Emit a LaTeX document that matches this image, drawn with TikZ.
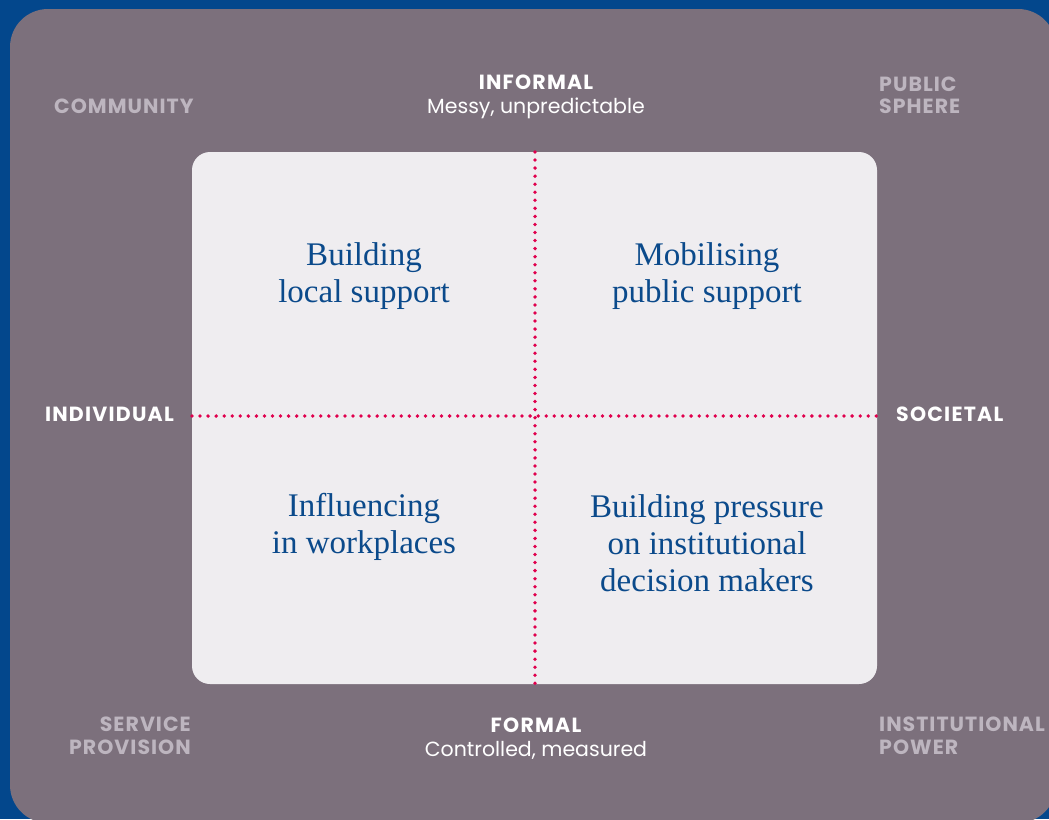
\documentclass[tikz,border=0pt]{standalone}
\usepackage{fontspec}
\setmainfont{Liberation Serif}
\setsansfont{Poppins}
\begin{document}
\definecolor{bgblue}{HTML}{03478C}
\definecolor{panel}{HTML}{7C707C}
\definecolor{inner}{HTML}{EFEDF0}
\definecolor{dotred}{HTML}{E0004D}
\definecolor{quadblue}{HTML}{0B4A8B}
\definecolor{soft}{HTML}{BDB5BF}
\begin{tikzpicture}[x=1pt,y=-1pt,
  axis/.style={font=\sffamily\bfseries\fontsize{20.5}{22}\selectfont\addfontfeature{LetterSpace=6}, text=white, inner sep=0pt},
  axisnote/.style={font=\sffamily\fontsize{20.5}{22}\selectfont, text=white, inner sep=0pt},
  corner/.style={font=\sffamily\bfseries\fontsize{20.5}{22}\selectfont\addfontfeature{LetterSpace=5}, text=soft, inner sep=0pt},
  quad/.style={font=\fontsize{33}{37}\selectfont, text=quadblue, align=center, inner sep=0pt},
  dotline/.style={dotred, line width=3.8pt, line cap=round, dash pattern=on 0pt off 8.05pt}]
  % page and panels
  \fill[bgblue] (0,0) rectangle (1049,819);
  \useasboundingbox (0,0) rectangle (1049,819);
  \fill[panel, rounded corners=38pt] (10,9) rectangle (1056,823);
  \node[fill=inner, rounded corners=18pt, minimum width=685pt, minimum height=532pt, inner sep=0pt] (box) at (534.5,418) {};
  % dotted axes
  \coordinate (vtop) at (535,152);
  \coordinate (vbot) at (535,684);
  \coordinate (hleft) at (192,416);
  \coordinate (hright) at (877,416);
  \draw[dotline] (hleft) -- (hright);
  \draw[dotline] (vtop) -- (vbot);
  % axis labels
  \node[axis, anchor=base] (informal) at (536,89) {INFORMAL};
  \node[axisnote, anchor=base] (messy) at (536,113) {Messy, unpredictable};
  \node[axis, anchor=base] (formal) at (536,732) {FORMAL};
  \node[axisnote, anchor=base] (controlled) at (536,756) {Controlled, measured};
  \node[axis, anchor=base east] (individual) at (174,421) {INDIVIDUAL};
  \node[axis, anchor=base west] (societal) at (896,421) {SOCIETAL};
  % corner labels
  \node[corner, anchor=base west] (community) at (54,113) {COMMUNITY};
  \node[corner, anchor=base west] (public) at (879,91) {PUBLIC};
  \node[corner, anchor=base west] (sphere) at (879,113) {SPHERE};
  \node[corner, anchor=base east] (service) at (191,731) {SERVICE};
  \node[corner, anchor=base east] (provision) at (191,754) {PROVISION};
  \node[corner, anchor=base west] (institutional) at (879,731) {INSTITUTIONAL};
  \node[corner, anchor=base west] (power) at (879,754) {POWER};
  % quadrant texts
  \node[quad] (q1) at (364,276) {Building\\local support};
  \node[quad] (q2) at (707,276) {Mobilising\\public support};
  \node[quad] (q3) at (364,527) {Influencing\\in workplaces};
  \node[quad] (q4) at (707,543) {Building pressure\\on institutional\\decision makers};
\end{tikzpicture}
\end{document}
